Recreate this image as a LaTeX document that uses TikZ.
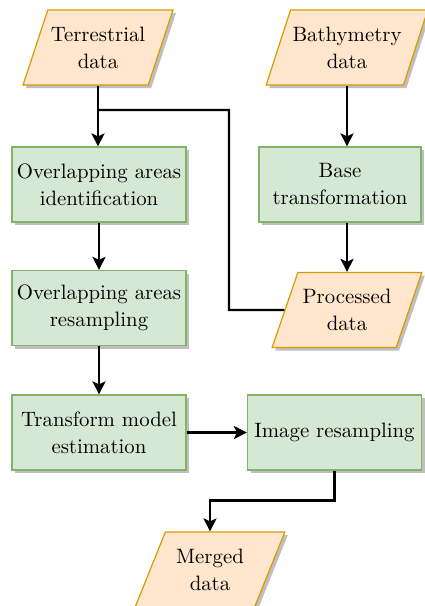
\documentclass[tikz,border=0pt]{standalone}
\usepackage{fontspec}
\usetikzlibrary{shapes.geometric, arrows.meta, shadows, calc}

\definecolor{procfill}{HTML}{D5E8D4}
\definecolor{procline}{HTML}{82B366}
\definecolor{datafill}{HTML}{FFE6CC}
\definecolor{dataline}{HTML}{D79B00}

\begin{document}
\begin{tikzpicture}[x=0.5pt, y=-0.5pt,
  font=\fontsize{10.4}{13.5}\selectfont,
  process/.style={rectangle, draw=procline, fill=procfill, line width=0.6pt, align=center,
    minimum width=87pt, minimum height=37.5pt, inner sep=1pt,
    drop shadow={shadow xshift=1.5pt, shadow yshift=-1.5pt, fill=black!25, opacity=1}},
  data/.style={trapezium, trapezium left angle=62, trapezium right angle=118, trapezium stretches=true,
    draw=dataline, fill=datafill, line width=0.6pt, align=center,
    minimum width=75pt, minimum height=37.5pt, inner sep=1pt,
    drop shadow={shadow xshift=1.5pt, shadow yshift=-1.5pt, fill=black!25, opacity=1}},
  flow/.style={-{Stealth[length=6.5pt, width=6.5pt, inset=1.5pt]}, line width=1.2pt},
  line/.style={line width=1.2pt}]

\useasboundingbox (0, 0) rectangle (424, 606);

\node [data] (terr) at (98, 47.5) {Terrestrial\\data};
\node [data] (bathy) at (347, 47.5) {Bathymetry\\data};

\node [process] (ident) at (99, 184.5) {Overlapping areas\\identification};
\node [process, minimum width=81pt] (base) at (340, 184.5) {Base\\transformation};

\node [process] (resamp) at (99, 308) {Overlapping areas\\resampling};
\node [data] (proc) at (347, 310) {Processed\\data};

\node [process] (model) at (99, 432.5) {Transform model\\estimation};
\node [process] (image) at (334.5, 432.5) {Image resampling};

\node [data] (merged) at (210, 569.5) {Merged\\data};

\coordinate (split) at (98, 110);
\coordinate (bend) at (229, 310);

\draw [flow] (terr.south) -- (terr.south |- ident.north);
\draw [line] (split) -| (bend) -- (proc.west);
\draw [flow] (bathy.south) -- (bathy.south |- base.north);
\draw [flow] (base.south -| proc.north) -- (proc.north);
\draw [flow] (ident) -- (resamp);
\draw [flow] (resamp) -- (model);
\draw [flow] (model) -- (image);
\draw [flow] (image.south) -- ++(0, 30) -| (merged.north);

\end{tikzpicture}
\end{document}
